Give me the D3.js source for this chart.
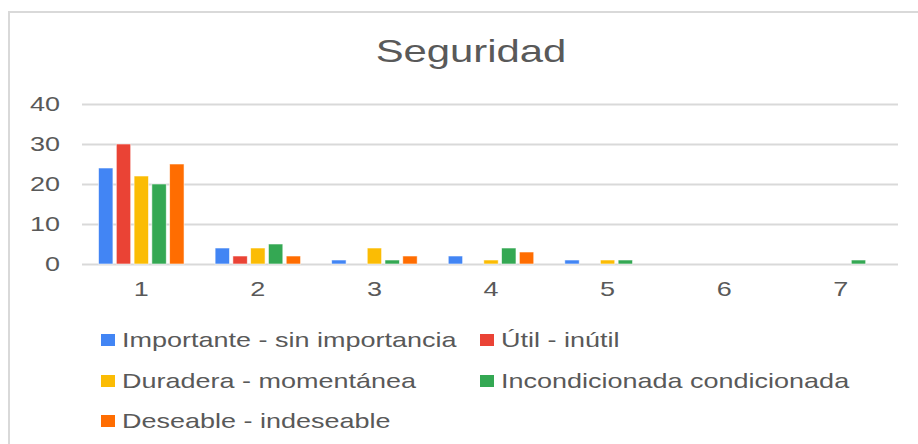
<!DOCTYPE html>
<html lang="es">
<head>
<meta charset="UTF-8">
<title>Seguridad</title>
<script src="https://d3js.org/d3.v7.min.js"></script>
<style>
    body { margin: 0; background: #fff; }
    text { font-family: "Liberation Sans", Arial, sans-serif; fill: #595959; }
</style>
</head>
<body>
<script>
    // data
    var categories = ["1", "2", "3", "4", "5", "6", "7"];
    var seriesNames = ["Importante - sin importancia", "Útil - inútil", "Duradera - momentánea",
        "Incondicionada condicionada", "Deseable - indeseable"];
    var importante = [24, 4, 1, 2, 1, 0, 0];
    var util = [30, 2, 0, 0, 0, 0, 0];
    var duradera = [22, 4, 4, 1, 1, 0, 0];
    var incondicionada = [20, 5, 1, 4, 1, 0, 1];
    var deseable = [25, 2, 2, 3, 0, 0, 0];
    var yTicks = [0, 10, 20, 30, 40];

    var seriesValues = [importante, util, duradera, incondicionada, deseable];
    var colors = ["#4285F4", "#EA4335", "#FBBC04", "#34A853", "#FF6D01"];
    var stretch = 1.35; // the picture is wider than it is tall, text too

    var width = 918, height = 444;
    var plotLeft = 82, plotRight = 898, plotTop = 104, plotBottom = 264;

    var svg = d3.select("body").append("svg")
        .attr("width", width)
        .attr("height", height);

    // outer frame
    svg.append("rect")
        .attr("x", 9).attr("y", 12)
        .attr("width", 960).attr("height", 480)
        .attr("fill", "none")
        .attr("stroke", "#d9d9d9")
        .attr("stroke-width", 2);

    svg.append("text")
        .attr("transform", "translate(471,62) scale(" + stretch + ",1)")
        .attr("text-anchor", "middle")
        .style("font-size", "31px")
        .text("Seguridad");

    var x0 = d3.scaleBand()
        .domain(categories)
        .range([plotLeft + 1, plotRight + 1])
        .paddingInner(0.236)
        .paddingOuter(0.118);

    var x1 = d3.scaleBand()
        .domain(d3.range(seriesNames.length))
        .range([0, x0.bandwidth()])
        .paddingInner(0.19)
        .paddingOuter(0.1);

    var y = d3.scaleLinear()
        .domain([0, 40])
        .range([plotBottom, plotTop]);

    // gridlines + y labels
    var yAxis = svg.append("g")
        .attr("transform", "translate(" + plotLeft + ",0)")
        .call(d3.axisLeft(y).tickValues(yTicks).tickSize(-(plotRight - plotLeft)));
    yAxis.select(".domain").remove();
    yAxis.selectAll("line").attr("stroke", "#d9d9d9").attr("stroke-width", 2);
    yAxis.selectAll("text")
        .attr("x", -22 / stretch)
        .attr("transform", "scale(" + stretch + ",1)")
        .style("font-size", "20px")
        .attr("fill", "#595959");

    var xAxis = svg.append("g")
        .attr("transform", "translate(0," + plotBottom + ")")
        .call(d3.axisBottom(x0).tickSize(0));
    xAxis.select(".domain").remove();
    xAxis.selectAll("text")
        .attr("y", 32).attr("dy", 0)
        .attr("transform", "scale(" + stretch + ",1)")
        .style("font-size", "20px")
        .attr("fill", "#595959");

    // bars
    var groups = svg.append("g").selectAll("g")
        .data(categories)
        .enter().append("g")
        .attr("transform", function (d) { return "translate(" + x0(d) + ",0)"; });

    groups.selectAll("rect")
        .data(function (d, i) {
            return seriesValues.map(function (vals, s) { return { s: s, v: vals[i] }; })
                .filter(function (e) { return e.v > 0; });
        })
        .enter().append("rect")
        .attr("x", function (d) { return x1(d.s); })
        .attr("y", function (d) { return y(d.v); })
        .attr("width", x1.bandwidth())
        .attr("height", function (d) { return y(0) - y(d.v); })
        .attr("fill", function (d) { return colors[d.s]; })
        .attr("stroke", "#fff")
        .attr("stroke-opacity", 0.7)
        .attr("stroke-width", 0.8);

    // legend
    var legendPos = [[101, 340], [480, 340], [101, 381], [480, 381], [101, 421]];
    var legend = svg.append("g").selectAll("g")
        .data(seriesNames)
        .enter().append("g")
        .attr("transform", function (d, i) {
            return "translate(" + legendPos[i][0] + "," + legendPos[i][1] + ")";
        });
    legend.append("rect")
        .attr("x", 0).attr("y", -6)
        .attr("width", 14).attr("height", 12)
        .attr("fill", function (d, i) { return colors[i]; });
    legend.append("text")
        .attr("transform", "translate(21,7) scale(" + stretch + ",1)")
        .style("font-size", "20px")
        .text(function (d) { return d; });
</script>
</body>
</html>
